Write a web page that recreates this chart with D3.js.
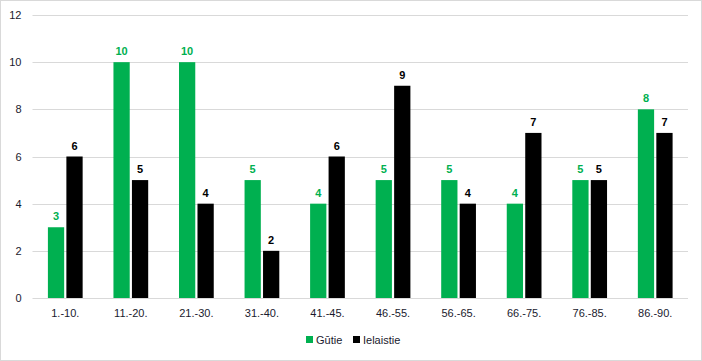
<!DOCTYPE html>
<html><head><meta charset="utf-8">
<script src="https://cdn.jsdelivr.net/npm/d3@7"></script>
<style>body{margin:0;background:#fff;}svg{display:block;font-family:"Liberation Sans",Arial,sans-serif;}</style>
</head><body>
<svg id="c" width="702" height="361"></svg>
<script>
const categories = ["1.-10.","11.-20.","21.-30.","31.-40.","41.-45.","46.-55.","56.-65.","66.-75.","76.-85.","86.-90."];
const gutie = [3,10,10,5,4,5,5,4,5,8];
const ielaistie = [6,5,4,2,6,9,4,7,5,7];
const seriesNames = ["Gūtie","Ielaistie"];
const colors = ["#00B050","#000000"];
const yTicks = [0,2,4,6,8,10,12];

const svg = d3.select("#c");
svg.append("rect").attr("x",0.5).attr("y",0.5).attr("width",701).attr("height",360).attr("fill","#fff").attr("stroke","#d9d9d9");

const m = {l:32.5, r:688, t:15, b:298};
const x = d3.scaleBand().domain(categories).range([m.l,m.r]).paddingInner(0).paddingOuter(0);
const y = d3.scaleLinear().domain([0,12]).range([m.b,m.t]);
const inner = d3.scaleBand().domain([0,1]).range([x.bandwidth()*0.235, x.bandwidth()*0.765]).paddingInner(0.12);

// gridlines
svg.append("g").selectAll("line").data(yTicks).join("line")
  .attr("x1",m.l).attr("x2",m.r).attr("y1",d=>Math.round(y(d))+0.5).attr("y2",d=>Math.round(y(d))+0.5)
  .attr("stroke","#d9d9d9").attr("stroke-width",1);

// y axis labels
const ya = svg.append("g").attr("transform",`translate(${m.l},0)`)
  .call(d3.axisLeft(y).tickValues(yTicks).tickSize(0).tickPadding(11));
ya.select(".domain").remove();
ya.selectAll("text").attr("font-size","11px").attr("fill","#1a1a2e").attr("font-family","Liberation Sans, Arial, sans-serif");

// x axis labels
const xa = svg.append("g").attr("transform",`translate(0,${m.b})`)
  .call(d3.axisBottom(x).tickSize(0).tickPadding(11));
xa.select(".domain").remove();
xa.selectAll("text").attr("font-size","11px").attr("fill","#1a1a2e").attr("font-family","Liberation Sans, Arial, sans-serif");

const data = [gutie, ielaistie];
data.forEach((vals,si)=>{
  const g = svg.append("g");
  g.selectAll("rect").data(vals).join("rect")
    .attr("x",(d,i)=>x(categories[i])+inner(si))
    .attr("width",inner.bandwidth())
    .attr("y",d=>y(d)).attr("height",d=>y(0)-y(d))
    .attr("fill",colors[si]);
  g.selectAll("text").data(vals).join("text")
    .attr("x",(d,i)=>x(categories[i])+inner(si)+inner.bandwidth()/2)
    .attr("y",d=>y(d)-7)
    .attr("text-anchor","middle").attr("font-size","11px").attr("font-weight","bold")
    .attr("fill",colors[si]).text(d=>d);
});

// legend
const leg = svg.append("g").attr("transform","translate(0,340)");
const items = [{n:seriesNames[0],c:colors[0],x:306},{n:seriesNames[1],c:colors[1],x:353}];
items.forEach(it=>{
  leg.append("rect").attr("x",it.x).attr("y",-4).attr("width",7).attr("height",7).attr("fill",it.c);
  leg.append("text").attr("x",it.x+10).attr("y",4).attr("font-size","11px").attr("fill","#1a1a2e").text(it.n);
});
</script>
</body></html>
